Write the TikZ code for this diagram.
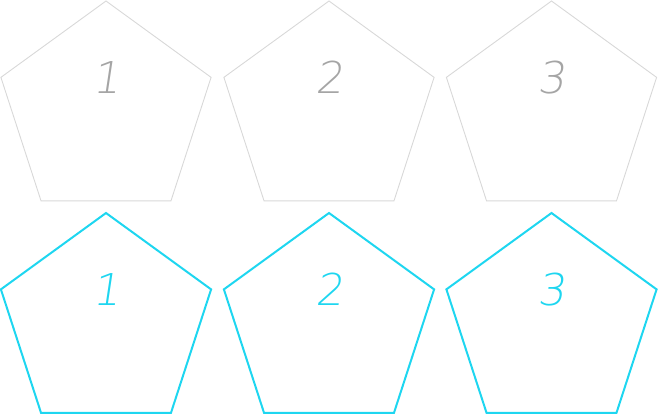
\documentclass[tikz,border=0pt]{standalone}
\usepackage{fontspec}
\newfontfamily\numfont{DejaVu Sans ExtraLight}[FakeSlant=0.15]
\usetikzlibrary{shapes.geometric}
\definecolor{pgray}{RGB}{216,216,216}
\definecolor{tgray}{RGB}{165,165,165}
\definecolor{pcyan}{RGB}{30,214,240}
\tikzset{
  x=1bp, y=1bp,
  penta/.style={regular polygon, regular polygon sides=5, minimum size=221bp, inner sep=0pt, outer sep=0pt},
  graypenta/.style={penta, draw=pgray, line width=0.9bp},
  cyanpenta/.style={penta, draw=pcyan, line width=2bp},
  numlabel/.style={font=\numfont\fontsize{44}{44}\selectfont, anchor=base, inner sep=0pt},
}
\begin{document}
\begin{tikzpicture}
\useasboundingbox (0,0) rectangle (659,-414);
\node[graypenta] (g1) at (106,-111.5) {};
\node[graypenta] (g2) at (329,-111.5) {};
\node[graypenta] (g3) at (551.5,-111.5) {};
\node[cyanpenta] (c1) at (106,-323.5) {};
\node[cyanpenta] (c2) at (329,-323.5) {};
\node[cyanpenta] (c3) at (551.5,-323.5) {};
\node[numlabel, text=tgray] (tg1) at (106,-93) {1};
\node[numlabel, text=tgray] (tg2) at (329,-93) {2};
\node[numlabel, text=tgray] (tg3) at (551.5,-93) {3};
\node[numlabel, text=pcyan] (tc1) at (106,-305) {1};
\node[numlabel, text=pcyan] (tc2) at (329,-305) {2};
\node[numlabel, text=pcyan] (tc3) at (551.5,-305) {3};
\end{tikzpicture}
\end{document}
